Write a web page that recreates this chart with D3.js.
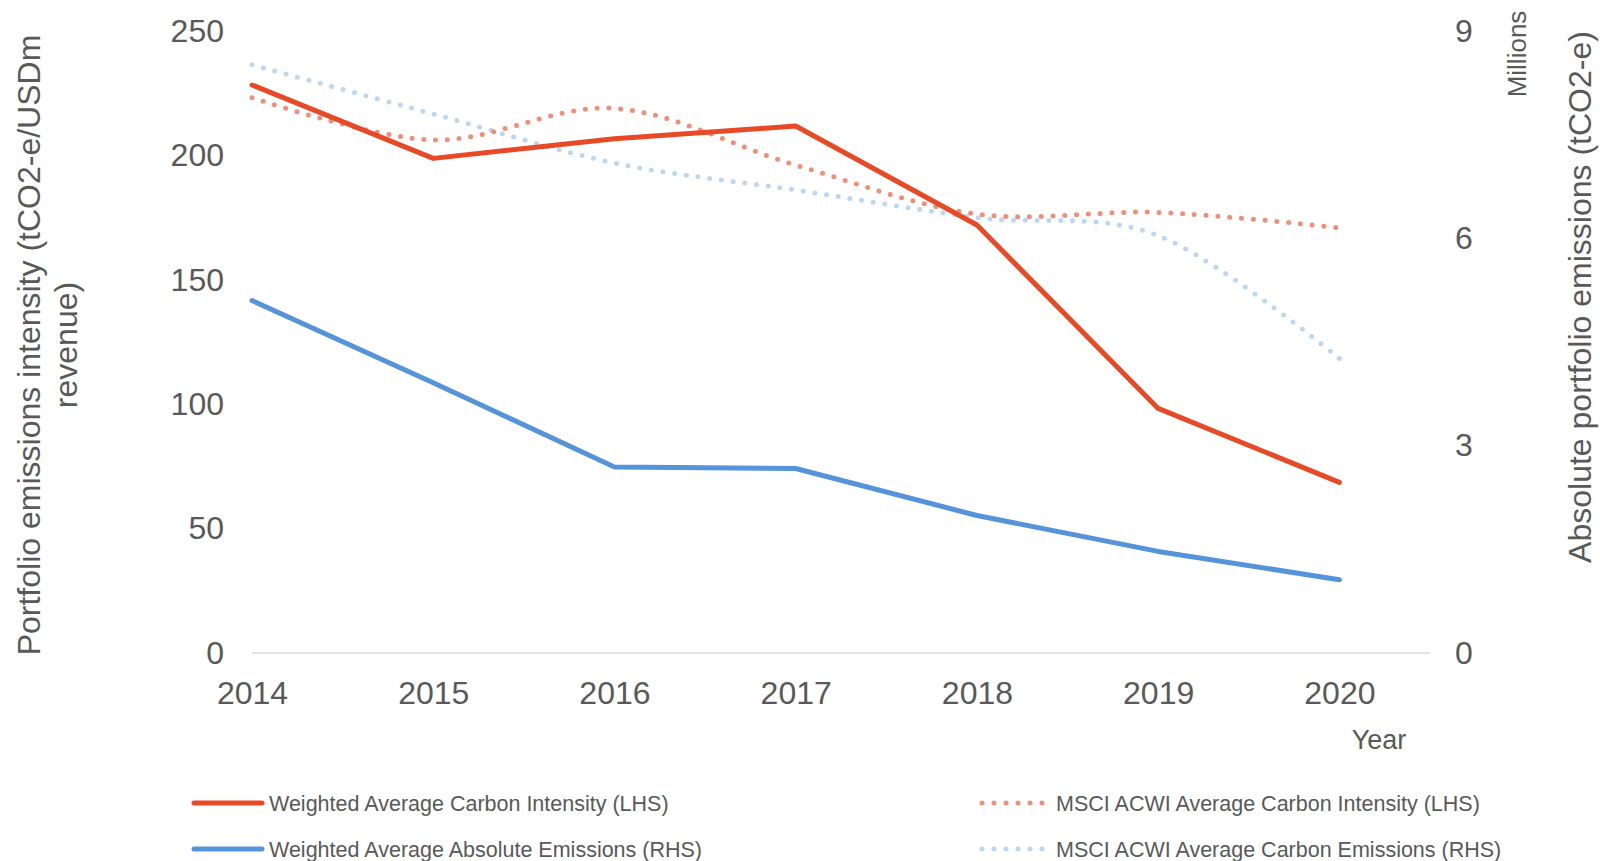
<!DOCTYPE html>
<html>
<head>
<meta charset="utf-8">
<script src="https://cdn.jsdelivr.net/npm/d3@7"></script>
<style>
  body { margin: 0; background: #fff; }
  svg { font-family: "Liberation Sans", Arial, sans-serif; }
  .tick text { fill: #595959; }
</style>
</head>
<body>
<svg width="1600" height="861"></svg>
<script>
// chart data
var years = [2014, 2015, 2016, 2017, 2018, 2019, 2020];
var waci = [228.3, 198.8, 206.7, 211.8, 172.0, 98.3, 68.6];        // LHS, solid red
var msciIntensity = [223.2, 206.2, 218.9, 196.1, 176.4, 177.1, 170.9]; // LHS, dotted red
var waEmissions = [5.10, 3.91, 2.69, 2.67, 1.99, 1.47, 1.06];      // RHS millions, solid blue
var msciEmissions = [8.51, 7.80, 7.09, 6.70, 6.30, 6.04, 4.26];    // RHS millions, dotted blue
var leftTicks = [0, 50, 100, 150, 200, 250];
var rightTicks = [0, 3, 6, 9];

var svg = d3.select("svg");
var textColor = "#595959";

var x = d3.scaleLinear().domain([2014, 2020.5]).range([252, 1430]);
var yL = d3.scaleLinear().domain([0, 250]).range([653, 31]);
var yR = d3.scaleLinear().domain([0, 9]).range([653, 31]);

// baseline
svg.append("line")
    .attr("x1", x(2014)).attr("x2", x(2020.5))
    .attr("y1", yL(0)).attr("y2", yL(0))
    .attr("stroke", "#d9d9d9").attr("stroke-width", 1.5);

// left axis
var gL = svg.append("g")
    .attr("transform", "translate(" + 238 + ",0)")
    .call(d3.axisLeft(yL).tickValues(leftTicks).tickSize(0).tickPadding(14));
gL.select(".domain").remove();
gL.selectAll("text").style("font-size", "32px");

// right axis
var gR = svg.append("g")
    .attr("transform", "translate(" + 1444 + ",0)")
    .call(d3.axisRight(yR).tickValues(rightTicks).tickSize(0).tickPadding(11));
gR.select(".domain").remove();
gR.selectAll("text").style("font-size", "32px");

// x axis
var gX = svg.append("g")
    .attr("transform", "translate(0," + 673 + ")")
    .call(d3.axisBottom(x).tickValues(years).tickFormat(d3.format("d")).tickSize(0).tickPadding(8));
gX.select(".domain").remove();
gX.selectAll("text").style("font-size", "32px");

// axis titles
var lt = svg.append("text")
    .attr("transform", "translate(40,345) rotate(-90)")
    .attr("text-anchor", "middle")
    .style("font-size", "32px")
    .attr("fill", textColor);
lt.append("tspan").attr("x", 0).attr("dy", 0).text("Portfolio emissions intensity (tCO2-e/USDm");
lt.append("tspan").attr("x", 0).attr("dy", 37).text("revenue)");

svg.append("text")
    .attr("transform", "translate(1591,297) rotate(-90)")
    .attr("text-anchor", "middle")
    .style("font-size", "32px")
    .attr("fill", textColor)
    .text("Absolute portfolio emissions (tCO2-e)");

svg.append("text")
    .attr("transform", "translate(1526,54) rotate(-90)")
    .attr("text-anchor", "middle")
    .style("font-size", "26px")
    .attr("fill", textColor)
    .text("Millions");

svg.append("text")
    .attr("x", 1379).attr("y", 749)
    .attr("text-anchor", "middle")
    .style("font-size", "27px")
    .attr("fill", textColor)
    .text("Year");

// series
var series = [
  { name: "MSCI ACWI Average Carbon Emissions (RHS)", values: msciEmissions, y: yR, color: "#bdd7f1", dotted: true },
  { name: "MSCI ACWI Average Carbon Intensity (LHS)", values: msciIntensity, y: yL, color: "#f28d78", dotted: true },
  { name: "Weighted Average Absolute Emissions (RHS)", values: waEmissions, y: yR, color: "#5593db", dotted: false },
  { name: "Weighted Average Carbon Intensity (LHS)", values: waci, y: yL, color: "#e84a27", dotted: false }
];

series.forEach(function(s) {
  var line = d3.line()
      .x(function(d, i) { return x(years[i]); })
      .y(function(d) { return s.y(d); })
      .curve(s.dotted ? d3.curveCardinal.tension(0) : d3.curveLinear);
  svg.append("path")
      .datum(s.values)
      .attr("d", line)
      .attr("fill", "none")
      .attr("stroke", s.color)
      .attr("stroke-width", 5)
      .attr("stroke-linecap", "round")
      .attr("stroke-linejoin", "round")
      .attr("stroke-dasharray", s.dotted ? "0 11.8" : null);
});

// legend
var legend = [
  { s: series[3], x: 194, y: 803 },
  { s: series[2], x: 194, y: 849 },
  { s: series[1], x: 982, y: 803 },
  { s: series[0], x: 982, y: 849 }
];

legend.forEach(function(l) {
  var g = svg.append("g").attr("transform", "translate(" + l.x + "," + l.y + ")");
  var len = l.s.dotted ? 64 : 68;
  g.append("line")
      .attr("x1", 0).attr("x2", len)
      .attr("y1", 0).attr("y2", 0)
      .attr("stroke", l.s.color)
      .attr("stroke-width", 5)
      .attr("stroke-linecap", "round")
      .attr("stroke-dasharray", l.s.dotted ? "0 12" : null);
  g.append("text")
      .attr("x", l.s.dotted ? 74 : 75)
      .attr("y", 7.5)
      .style("font-size", "21.5px")
      .attr("fill", textColor)
      .text(l.s.name);
});
</script>
</body>
</html>
